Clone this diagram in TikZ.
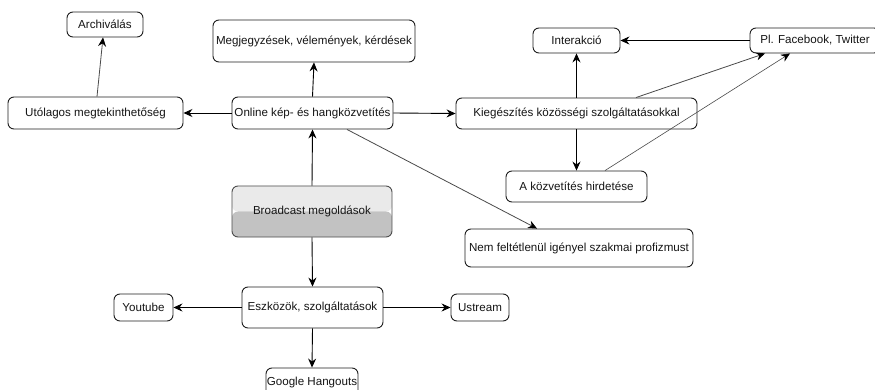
\documentclass[tikz,border=0pt]{standalone}
\usepackage{fontspec}
\setmainfont{Liberation Sans}
\usetikzlibrary{arrows.meta}
\definecolor{boxline}{HTML}{1E1E1E}
\definecolor{txt}{HTML}{151515}
\definecolor{bcTop}{HTML}{EAEAEA}
\definecolor{bcBot}{HTML}{C2C2C2}
\definecolor{thinline}{HTML}{4A4A4A}
\tikzset{
  box/.style={draw=boxline, line width=0.9pt, rounded corners=6pt, fill=white,
    inner sep=0pt, align=center, text=txt,
    font=\fontsize{11.6}{13}\selectfont},
  hubbox/.style={box, draw=gray!60!black,
    path picture={
      \fill[bcTop] (path picture bounding box.north west) rectangle (path picture bounding box.east);
      \fill[bcBot] (path picture bounding box.west) rectangle (path picture bounding box.south east);
    }},
  link/.style={draw=black, line width=0.9pt, -{Stealth[length=9pt,width=8pt,inset=3pt,color=black]}},
  greylink/.style={link, draw=thinline, line width=0.8pt},
}
\begin{document}
\begin{tikzpicture}[x=1pt,y=-1pt]
\useasboundingbox[fill=white] (0,0) rectangle (875,390);

% boxes
\node[box, minimum width=76pt, minimum height=25pt] (arch) at (105,24.5) {Archiválás};
\node[box, minimum width=202pt, minimum height=42pt] (megj) at (314,41) {Megjegyzések, vélemények, kérdések};
\node[box, minimum width=175pt, minimum height=32pt] (utol) at (95.5,113) {Utólagos megtekinthetőség};
\node[box, minimum width=161pt, minimum height=32pt] (online) at (312.5,113) {Online kép- és hangközvetítés};
\node[box, minimum width=87pt, minimum height=25pt] (inter) at (576.5,40.5) {Interakció};
\node[box, minimum width=130pt, minimum height=25pt] (fb) at (815,40.5) {Pl. Facebook, Twitter};
\node[box, minimum width=241pt, minimum height=31pt] (kieg) at (576.5,113.5) {Kiegészítés közösségi szolgáltatásokkal};
\node[box, minimum width=141pt, minimum height=31pt] (hird) at (576.5,186.5) {A közvetítés hirdetése};
\node[box, minimum width=228pt, minimum height=38pt] (nem) at (579,248) {Nem feltétlenül igényel szakmai profizmust};
\node[hubbox, minimum width=160pt, minimum height=51pt] (bc) at (312,211.5) {Broadcast megoldások};
\node[box, minimum width=141pt, minimum height=41pt] (eszk) at (312.5,307.5) {Eszközök, szolgáltatások};
\node[box, minimum width=59pt, minimum height=27pt] (yt) at (143.5,307.5) {Youtube};
\node[box, minimum width=58pt, minimum height=27pt] (ust) at (480,307.5) {Ustream};
\node[box, minimum width=92pt, minimum height=28pt] (gh) at (312,382) {Google Hangouts};

% connectors
\draw[greylink] ([xshift=1.5pt]utol.north) -- ([xshift=-2pt]arch.south);
\draw[link] (online.north) -- (megj.south);
\draw[link] (online.west) -- (utol.east);
\draw[link] (online.east) -- (kieg.west);
\draw[greylink] ([xshift=34.5pt]online.south) -- ([xshift=-42pt]nem.north);
\draw[link] (bc.north) -- (online.south);
\draw[link] (bc.south) -- (eszk.north);
\draw[link] (eszk.west) -- (yt.east);
\draw[link] (eszk.east) -- (ust.west);
\draw[link] (eszk.south) -- (gh.north);
\draw[link] (kieg.north) -- (inter.south);
\draw[link] (kieg.south) -- (hird.north);
\draw[link] (fb.west) -- (inter.east);
\draw[greylink] ([xshift=59.5pt]kieg.north) -- ([xshift=-50pt]fb.south);
\draw[greylink, line width=0.6pt] ([xshift=28.5pt]hird.north) -- ([xshift=-25pt]fb.south);
\end{tikzpicture}
\end{document}
